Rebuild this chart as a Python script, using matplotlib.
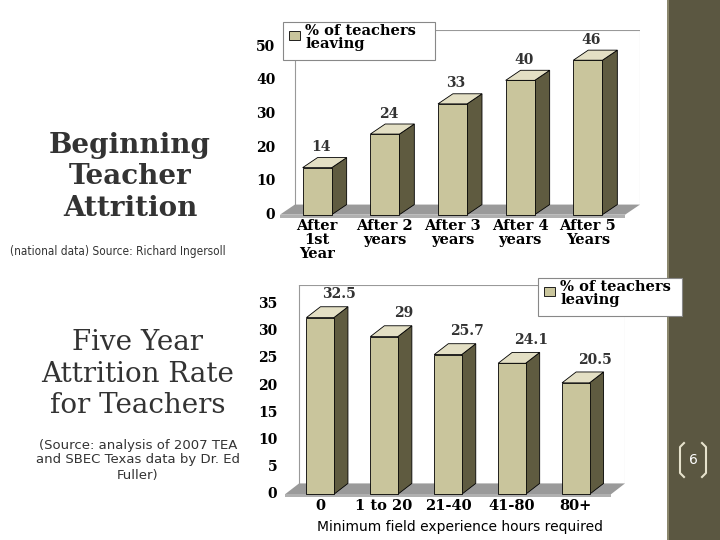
import matplotlib.pyplot as plt
from matplotlib.patches import Polygon, Rectangle
from matplotlib.lines import Line2D

labels1 = ["After\n1st\nYear", "After 2\nyears", "After 3\nyears", "After 4\nyears", "After 5\nYears"]
values1 = [14, 24, 33, 40, 46]
labels2 = ["0", "1 to 20", "21-40", "41-80", "80+"]
values2 = [32.5, 29, 25.7, 24.1, 20.5]
legend_text = "% of teachers\nleaving"

FRONT = "#c9c59c"
SIDE = "#5f5b40"
TOP = "#e3dfc4"
SERIF = "DejaVu Serif"

W, H = 720, 540
fig = plt.figure(figsize=(7.2, 5.4), dpi=100)
fig.patch.set_facecolor("white")


def px_axes(x0, y0, x1, y1):
    return fig.add_axes([x0 / W, 1 - y1 / H, (x1 - x0) / W, (y1 - y0) / H])


def bar3d(ax, xs, vals, width, dx, dy):
    for x, v in zip(xs, vals):
        l, r = x - width / 2, x + width / 2
        ax.add_patch(Polygon([(r, 0), (r + dx, dy), (r + dx, v + dy), (r, v)],
                             facecolor=SIDE, edgecolor="black", lw=0.6))
        ax.add_patch(Polygon([(l, v), (l + dx, v + dy), (r + dx, v + dy), (r, v)],
                             facecolor=TOP, edgecolor="black", lw=0.6))
        ax.add_patch(Rectangle((l, 0), width, v, facecolor=FRONT, edgecolor="black", lw=0.6))


def chart(box, vals, xlabels, ymax, ystep, yl, dy, lab_off, tick_x):
    ax = px_axes(*box)
    n = len(vals)
    dx = 0.22
    ax.set_xlim(-0.55, n - 0.45 + dx)
    ax.set_ylim(yl[0], yl[1])
    ax.axis("off")
    # floor
    ax.add_patch(Polygon([(-0.55, 0), (-0.55 + dx, dy), (n - 0.45 + dx, dy), (n - 0.45, 0)],
                         facecolor="#9a9a9a", edgecolor="none", zorder=0))
    ax.add_patch(Polygon([(-0.55, yl[0]), (-0.55, 0), (n - 0.45, 0), (n - 0.45, yl[0])],
                         facecolor="#b0b0b0", edgecolor="none", zorder=0))
    ax.plot([-0.55 + dx, -0.55 + dx], [dy, yl[1]], color="#999999", lw=0.8)
    ax.plot([-0.55 + dx, n - 0.45 + dx], [yl[1], yl[1]], color="#999999", lw=0.8)
    ax.plot([n - 0.45 + dx, n - 0.45 + dx], [dy, yl[1]], color="#bbbbbb", lw=0.8)
    xs = list(range(n))
    bar3d(ax, xs, vals, 0.43, dx, dy)
    for x, v in zip(xs, vals):
        ax.text(x + lab_off, v + dy + 1.0, f"{v:g}", ha="center", va="bottom", family=SERIF,
                fontweight="bold", fontsize=10, color="#333333")
    for t in range(0, ymax + 1, ystep):
        ax.text(tick_x, t, str(t), ha="right", va="center", family=SERIF,
                fontweight="bold", fontsize=10, clip_on=False)
    for x, lab in zip(xs, xlabels):
        ax.text(x, yl[0] - 0.3, lab, ha="center", va="top", family=SERIF,
                fontweight="bold", fontsize=10.5, clip_on=False, linespacing=1.0)
    return ax


chart((280, 30, 640, 218), values1, labels1, 50, 10, (-1, 55), 3, 0.05, -0.62)
chart((285, 285, 625, 497), values2, labels2, 35, 5, (-0.5, 38.5), 2, 0.3, -0.67)

# legends
for (x0, y0, x1, y1) in [(283, 22, 435, 60), (538, 278, 682, 316)]:
    fig.patches.append(Rectangle((x0 / W, 1 - y1 / H), (x1 - x0) / W, (y1 - y0) / H,
                                 transform=fig.transFigure, facecolor="white",
                                 edgecolor="#888888", lw=0.8, zorder=5))
    fig.patches.append(Rectangle(((x0 + 6) / W, 1 - (y0 + 18) / H), 11 / W, 9 / H,
                                 transform=fig.transFigure, facecolor=FRONT,
                                 edgecolor="black", lw=0.6, zorder=6))
    fig.text((x0 + 22) / W, 1 - (y0 + 2) / H, legend_text, ha="left", va="top",
             family=SERIF, fontweight="bold", fontsize=10.5, zorder=7, linespacing=0.95)

fig.text(460 / W, 1 - 527 / H, "Minimum field experience hours required", ha="center",
         va="center", family="DejaVu Sans", fontsize=10)

# left side titles
fig.text(130 / W, 1 - 177 / H, "Beginning\nTeacher\nAttrition", ha="center", va="center",
         family=SERIF, fontweight="bold", fontsize=20, color="#333333", linespacing=1.2)
fig.text(10 / W, 1 - 251 / H, "(national data) Source: Richard Ingersoll", ha="left",
         va="center", family="DejaVu Sans", fontsize=8.5, color="#333333", fontstretch="condensed")
fig.text(138 / W, 1 - 374 / H, "Five Year\nAttrition Rate\nfor Teachers", ha="center",
         va="center", family=SERIF, fontsize=20, color="#333333", linespacing=1.2)
fig.text(138 / W, 1 - 460 / H, "(Source: analysis of 2007 TEA\nand SBEC Texas data by Dr. Ed\nFuller)",
         ha="center", va="center", family="DejaVu Sans", fontsize=9.5, color="#333333")

# right strip
fig.patches.append(Rectangle((667 / W, 0), 53 / W, 1, transform=fig.transFigure,
                             facecolor="#5b5741", edgecolor="none", zorder=1))
fig.patches.append(Rectangle((667 / W, 0), 2 / W, 1, transform=fig.transFigure,
                             facecolor="#8a866c", edgecolor="none", zorder=2))
fig.text(693 / W, 1 - 460 / H, "6", ha="center", va="center", color="white",
         fontsize=10, zorder=3)
for xa, xb in [(684, 680), (702, 706)]:
    fig.lines.append(Line2D([xa / W, xb / W, xb / W, xa / W],
                            [1 - 443 / H, 1 - 447 / H, 1 - 473 / H, 1 - 477 / H],
                            transform=fig.transFigure, color="#e6e2cc", lw=1.5, zorder=3))

fig.savefig("out.png", dpi=100)
